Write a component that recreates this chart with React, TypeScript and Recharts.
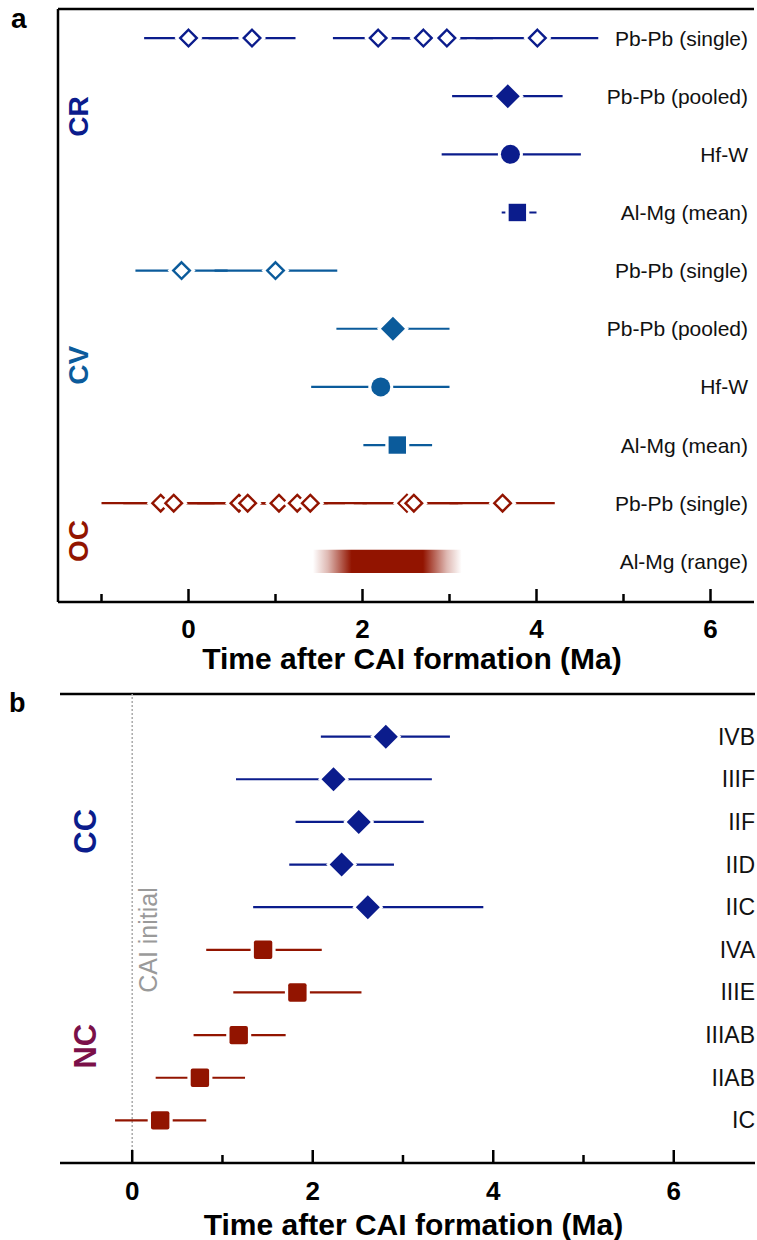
import React from "react";
import {
  ScatterChart,
  Scatter,
  XAxis,
  YAxis,
  ErrorBar,
  ReferenceLine,
  ReferenceArea,
  ReferenceDot,
} from "recharts";

const FONT = "'Liberation Sans', Arial, Helvetica, sans-serif";

const CR_COLOR = "#0b1c8c";
const CV_COLOR = "#0b5b9b";
const OC_COLOR = "#921400";
const NC_COLOR = "#7b1049";

// panel a: rows top to bottom
const ROW_LABELS_A = [
  "Pb-Pb (single)",
  "Pb-Pb (pooled)",
  "Hf-W",
  "Al-Mg (mean)",
  "Pb-Pb (single)",
  "Pb-Pb (pooled)",
  "Hf-W",
  "Al-Mg (mean)",
  "Pb-Pb (single)",
  "Al-Mg (range)",
];

const CR_SINGLE_X = [0.0, 0.73, 2.18, 2.7, 2.97, 4.01];
const CR_SINGLE_LO = [-0.51, 0.23, 1.66, 2.2, 2.45, 3.3];
const CR_SINGLE_HI = [0.5, 1.23, 2.7, 3.2, 3.5, 4.71];
const CR_POOLED = [3.67, 3.03, 4.3];
const CR_HFW = [3.7, 2.91, 4.51];
const CR_ALMG = [3.78, 3.6, 4.0];

const CV_SINGLE_X = [-0.08, 1.0];
const CV_SINGLE_LO = [-0.61, 0.3];
const CV_SINGLE_HI = [0.45, 1.71];
const CV_POOLED = [2.35, 1.7, 3.0];
const CV_HFW = [2.21, 1.41, 3.0];
const CV_ALMG = [2.4, 2.01, 2.8];

const OC_SINGLE_X = [-0.32, -0.17, 0.58, 0.68, 1.04, 1.25, 1.4, 2.51, 2.59, 3.61];
const OC_SINGLE_LO = [-1.0, -0.75, 0.0, 0.1, 0.5, 0.7, 0.85, 1.9, 2.0, 3.0];
const OC_SINGLE_HI = [0.3, 0.45, 1.15, 1.25, 1.6, 1.8, 2.05, 3.1, 3.15, 4.21];
const OC_ALMG_RANGE = [1.43, 3.14];

const GROUPS_A = ["CR", "CV", "OC"];
const GROUP_COLORS_A = [CR_COLOR, CV_COLOR, OC_COLOR];
const GROUP_ROWS_A = [2.35, 6.63, 9.65];

// panel b: iron meteorite groups top to bottom
const IRON_GROUPS = ["IVB", "IIIF", "IIF", "IID", "IIC", "IVA", "IIIE", "IIIAB", "IIAB", "IC"];
const CC_X = [2.81, 2.23, 2.51, 2.32, 2.61];
const CC_LO = [2.09, 1.15, 1.81, 1.74, 1.34];
const CC_HI = [3.52, 3.32, 3.23, 2.9, 3.89];
const NC_X = [1.45, 1.83, 1.18, 0.75, 0.31];
const NC_LO = [0.82, 1.12, 0.68, 0.26, -0.19];
const NC_HI = [2.1, 2.54, 1.7, 1.25, 0.82];

const GROUPS_B = ["CC", "NC"];
const GROUP_COLORS_B = [CR_COLOR, NC_COLOR];
const GROUP_ROWS_B = [3.22, 8.26];

const TICKS_A = [-1, 0, 1, 2, 3, 4, 5, 6];
const TICKS_B = [0, 1, 2, 3, 4, 5, 6];

type Pt = { x: number; y: number; err: [number, number] };

const pts = (xs: number[], lo: number[], hi: number[], rows: number[]): Pt[] =>
  xs.map((x, i) => ({ x, y: rows[i], err: [x - lo[i], hi[i] - x] }));

const one = (v: number[], row: number): Pt[] => pts([v[0]], [v[1]], [v[2]], [row]);
const same = (n: number, row: number) => Array.from({ length: n }, () => row);

const SERIES_A = [
  { data: pts(CR_SINGLE_X, CR_SINGLE_LO, CR_SINGLE_HI, same(CR_SINGLE_X.length, 1)), color: CR_COLOR, kind: "open" },
  { data: one(CR_POOLED, 2), color: CR_COLOR, kind: "diamond" },
  { data: one(CR_HFW, 3), color: CR_COLOR, kind: "circle" },
  { data: one(CR_ALMG, 4), color: CR_COLOR, kind: "square" },
  { data: pts(CV_SINGLE_X, CV_SINGLE_LO, CV_SINGLE_HI, same(CV_SINGLE_X.length, 5)), color: CV_COLOR, kind: "open" },
  { data: one(CV_POOLED, 6), color: CV_COLOR, kind: "diamond" },
  { data: one(CV_HFW, 7), color: CV_COLOR, kind: "circle" },
  { data: one(CV_ALMG, 8), color: CV_COLOR, kind: "square" },
  { data: pts(OC_SINGLE_X, OC_SINGLE_LO, OC_SINGLE_HI, same(OC_SINGLE_X.length, 9)), color: OC_COLOR, kind: "open" },
];

const SERIES_B = [
  { data: pts(CC_X, CC_LO, CC_HI, [1, 2, 3, 4, 5]), color: CR_COLOR, kind: "bdiamond" },
  { data: pts(NC_X, NC_LO, NC_HI, [6, 7, 8, 9, 10]), color: OC_COLOR, kind: "bsquare" },
];

const dia = (cx: number, cy: number, h: number) =>
  `${cx},${cy - h} ${cx + h},${cy} ${cx},${cy + h} ${cx - h},${cy}`;

function Marker({ cx, cy, kind, color }: { cx: number; cy: number; kind: string; color: string }) {
  if (cx == null || cy == null) return <g />;
  switch (kind) {
    case "open":
      return (
        <g>
          <polygon points={dia(cx, cy, 14)} fill="#fff" />
          <polygon points={dia(cx, cy, 8.3)} fill="#fff" stroke={color} strokeWidth={2.4} />
        </g>
      );
    case "diamond":
      return (
        <g>
          <polygon points={dia(cx, cy, 16)} fill="#fff" />
          <polygon points={dia(cx, cy, 12)} fill={color} />
        </g>
      );
    case "circle":
      return (
        <g>
          <circle cx={cx} cy={cy} r={12.5} fill="#fff" />
          <circle cx={cx} cy={cy} r={9.5} fill={color} />
        </g>
      );
    case "square":
      return (
        <g>
          <rect x={cx - 12} y={cy - 12} width={24} height={24} fill="#fff" />
          <rect x={cx - 8.7} y={cy - 8.7} width={17.4} height={17.4} fill={color} />
        </g>
      );
    case "bdiamond":
      return (
        <g>
          <polygon points={dia(cx, cy, 15.5)} fill="#fff" />
          <polygon points={dia(cx, cy, 12)} fill={color} />
        </g>
      );
    default:
      return (
        <g>
          <rect x={cx - 12.5} y={cy - 12.5} width={25} height={25} fill="#fff" />
          <rect x={cx - 9.2} y={cy - 9.2} width={18.4} height={18.4} rx={2} fill={color} />
        </g>
      );
  }
}

const renderTick = (labelDy: number) => (props: any) => {
  const { x, y, payload } = props;
  const v = payload.value;
  const major = v % 2 === 0;
  return (
    <g>
      <line x1={x} x2={x} y1={y} y2={y - (major ? 13 : 8)} stroke="#000" strokeWidth={2.5} />
      {major && (
        <text x={x} y={y + labelDy} textAnchor="middle" fontSize={26} fontWeight="bold" fontFamily={FONT} fill="#000">
          {v}
        </text>
      )}
    </g>
  );
};

const renderTitle = (dy: number) => (props: any) => {
  const vb = props.viewBox;
  return (
    <text
      x={vb.x + vb.width / 2 + 6}
      y={vb.y + dy}
      textAnchor="middle"
      fontSize={30}
      fontWeight="bold"
      fontFamily={FONT}
      fill="#000"
    >
      Time after CAI formation (Ma)
    </text>
  );
};

const groupLabel = (text: string, color: string, size: number) => (p: any) => (
  <text
    x={p.cx}
    y={p.cy}
    transform={`rotate(-90 ${p.cx} ${p.cy})`}
    textAnchor="middle"
    dominantBaseline="central"
    fontSize={size}
    fontWeight="bold"
    fontFamily={FONT}
    fill={color}
  >
    {text}
  </text>
);

// row name, right-aligned against the right edge of the plot
const rowLabel = (text: string, size: number, gap: number) => (p: any) => (
  <text
    x={p.cx - gap}
    y={p.cy}
    textAnchor="end"
    dominantBaseline="central"
    fontSize={size}
    fontFamily={FONT}
    fill="#111"
  >
    {text}
  </text>
);

const AXIS = { stroke: "#000", strokeWidth: 2.5 };

function renderSeries(series: typeof SERIES_A, prefix: string) {
  return [
    ...series.map((s, i) => (
      <Scatter key={`${prefix}bar${i}`} data={s.data} shape={() => <g />} isAnimationActive={false}>
        <ErrorBar dataKey="err" direction="x" width={0} stroke={s.color} strokeWidth={2.2} isAnimationActive={false} />
      </Scatter>
    )),
    ...series.map((s, i) => (
      <Scatter
        key={`${prefix}mk${i}`}
        data={s.data}
        isAnimationActive={false}
        shape={(p: any) => <Marker cx={p.cx} cy={p.cy} kind={s.kind} color={s.color} />}
      />
    )),
  ];
}

function PanelA() {
  return (
    <ScatterChart width={757} height={680} margin={{ top: 9, right: 3, left: 58, bottom: 0 }}>
      <defs>
        <linearGradient id="ocRange" x1="0" x2="1" y1="0" y2="0">
          <stop offset="0%" stopColor={OC_COLOR} stopOpacity={0} />
          <stop offset="10%" stopColor={OC_COLOR} stopOpacity={0.3} />
          <stop offset="26%" stopColor={OC_COLOR} stopOpacity={1} />
          <stop offset="74%" stopColor={OC_COLOR} stopOpacity={1} />
          <stop offset="90%" stopColor={OC_COLOR} stopOpacity={0.3} />
          <stop offset="100%" stopColor={OC_COLOR} stopOpacity={0} />
        </linearGradient>
      </defs>
      <XAxis
        type="number"
        dataKey="x"
        domain={[-1.5, 6.5]}
        ticks={TICKS_A}
        interval={0}
        allowDataOverflow
        height={78}
        tickSize={0}
        tickMargin={0}
        tickLine={false}
        axisLine={AXIS}
        tick={renderTick(36)}
        label={renderTitle(67)}
      />
      <YAxis
        type="number"
        dataKey="y"
        orientation="right"
        domain={[0.5, 10.7]}
        reversed
        allowDataOverflow
        width={0}
        tick={false}
        tickLine={false}
        axisLine={AXIS}
      />
      <ReferenceLine y={0.5} stroke="#000" strokeWidth={2.5} />
      <ReferenceLine x={-1.5} stroke="#000" strokeWidth={2.5} />
      <ReferenceArea x1={OC_ALMG_RANGE[0]} x2={OC_ALMG_RANGE[1]} y1={9.8} y2={10.2} fill="url(#ocRange)" fillOpacity={1} stroke="none" />
      {renderSeries(SERIES_A, "a")}
      {GROUPS_A.map((g, i) => (
        <ReferenceDot key={g} x={-1.26} y={GROUP_ROWS_A[i]} r={0} ifOverflow="visible" shape={groupLabel(g, GROUP_COLORS_A[i], 28)} />
      ))}
      {ROW_LABELS_A.map((t, i) => (
        <ReferenceDot key={`lab${i}`} x={6.5} y={i + 1} r={0} ifOverflow="visible" shape={rowLabel(t, 21, 6)} />
      ))}
    </ScatterChart>
  );
}

function PanelB() {
  return (
    <ScatterChart width={757} height={560} margin={{ top: 14, right: 2, left: 60, bottom: 0 }}>
      <XAxis
        type="number"
        dataKey="x"
        domain={[-0.8, 6.9]}
        ticks={TICKS_B}
        interval={0}
        allowDataOverflow
        height={77}
        tickSize={0}
        tickMargin={0}
        tickLine={false}
        axisLine={AXIS}
        tick={renderTick(37)}
        label={renderTitle(72)}
      />
      <YAxis
        type="number"
        dataKey="y"
        domain={[0, 11]}
        reversed
        allowDataOverflow
        width={0}
        tick={false}
        tickLine={false}
        axisLine={AXIS}
      />
      <ReferenceLine y={0} stroke="#000" strokeWidth={2.5} />
      <ReferenceLine x={0} stroke="#aaa" strokeWidth={1.5} strokeDasharray="2 2" />
      <ReferenceDot
        x={0.27}
        y={5.77}
        r={0}
        ifOverflow="visible"
        shape={(p: any) => (
          <text
            x={p.cx}
            y={p.cy}
            transform={`rotate(-90 ${p.cx} ${p.cy})`}
            textAnchor="middle"
            fontSize={25}
            fontFamily={FONT}
            fill="#9a9a9a"
          >
            CAI initial
          </text>
        )}
      />
      {renderSeries(SERIES_B, "b")}
      {GROUPS_B.map((g, i) => (
        <ReferenceDot key={g} x={-0.52} y={GROUP_ROWS_B[i]} r={0} ifOverflow="visible" shape={groupLabel(g, GROUP_COLORS_B[i], 31)} />
      ))}
      {IRON_GROUPS.map((t, i) => (
        <ReferenceDot key={`lab${i}`} x={6.9} y={i + 1} r={0} ifOverflow="visible" shape={rowLabel(t, 23, 0)} />
      ))}
    </ScatterChart>
  );
}

export default function App() {
  return (
    <div style={{ position: "absolute", left: 0, top: 0, width: 757, height: 1240, overflow: "hidden", background: "#fff" }}>
      <div style={{ position: "absolute", left: 0, top: 0 }}>
        <PanelA />
      </div>
      <div style={{ position: "absolute", left: 0, top: 680 }}>
        <PanelB />
      </div>
      <svg width={757} height={1240} style={{ position: "absolute", left: 0, top: 0, pointerEvents: "none" }}>
        <text x={11} y={28} fontSize={28} fontWeight="bold" fontFamily={FONT} fill="#000">a</text>
        <text x={9} y={712} fontSize={27} fontWeight="bold" fontFamily={FONT} fill="#000">b</text>
      </svg>
    </div>
  );
}
